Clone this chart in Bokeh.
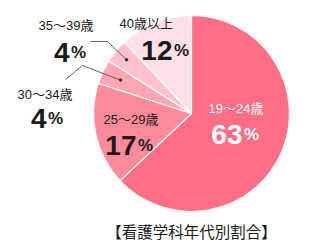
import math
from bokeh.plotting import figure
from bokeh.models import Range1d, ColumnDataSource
from bokeh.core.properties import value
from bokeh.embed import file_html
from bokeh.resources import INLINE

# Age groups and their share (%)
age_groups = ["19〜24歳", "25〜29歳", "30〜34歳", "35〜39歳", "40歳以上"]
shares = [63, 17, 4, 4, 12]
slice_colors = ["#FF6E84", "#FF8A9B", "#FFA6B3", "#FFC1CA", "#FFE0E6"]
title_text = "【看護学科年代別割合】"

W, H = 320, 244
FONT = "Liberation Sans, Noto Sans CJK JP"
CJK = "Noto Sans CJK JP"

p = figure(width=W, height=H, output_backend="svg", toolbar_location=None,
           x_range=Range1d(0, W), y_range=Range1d(0, H), min_border=0,
           outline_line_color=None)
p.axis.visible = False
p.grid.visible = False
p.background_fill_color = "white"
p.border_fill_color = "white"


def sy(y):
    # layout positions are given top-down
    return H - y


cx, cy, r = 191, sy(113), 98
total = sum(shares)

# clockwise wedges starting at 12 o'clock
starts, ends, mids = [], [], []
acc = 0.0
for s in shares:
    a0 = math.pi / 2 - 2 * math.pi * acc / total
    acc += s
    a1 = math.pi / 2 - 2 * math.pi * acc / total
    starts.append(a0)
    ends.append(a1)
    mids.append((a0 + a1) / 2)

src = ColumnDataSource(dict(start=starts, end=ends, color=slice_colors))
p.wedge(x=cx, y=cy, radius=r, start_angle="start", end_angle="end",
        direction="clock", fill_color="color", line_color="white",
        line_width=1.2, source=src)

# leader lines for the two narrow slices
leaders = {2: ([65, 82], [79, 65], 0.80), 3: ([90, 107], [41, 41], 0.86)}
for i, (lx, ly, f) in leaders.items():
    dx = cx + f * r * math.cos(mids[i])
    dy = cy + f * r * math.sin(mids[i])
    xs = lx + [dx]
    ys = [sy(v) for v in ly] + [dy]
    p.line(xs, ys, line_color="#555555", line_width=0.9)
    p.scatter([dx], [dy], size=3.5, fill_color="#333333", line_color=None)

# label layout: (name x, name baseline, number end x, number baseline, text colour)
label_pos = [
    (208, 108, 242, 134, "white"),
    (103, 119, 136, 145, "#1a1a1a"),
    (17, 94, 46, 118, "#1a1a1a"),
    (38, 25, 69, 52, "#1a1a1a"),
    (119, 23, 172, 50, "#1a1a1a"),
]

for name, share, (nx, ny, ex, ey, col) in zip(age_groups, shares, label_pos):
    p.text(x=[nx], y=[sy(ny)], text=[name], text_font=value(FONT),
           text_font_size="13px", text_color=col, text_baseline="alphabetic",
           text_align="left")
    p.text(x=[ex], y=[sy(ey)], text=[str(share)], text_font=value(FONT),
           text_font_size="28px", text_font_style="bold", text_color=col,
           text_baseline="alphabetic", text_align="right")
    p.text(x=[ex + 1.5], y=[sy(ey)], text=["%"], text_font=value(FONT),
           text_font_size="17px", text_font_style="bold", text_color=col,
           text_baseline="alphabetic", text_align="left")

p.text(x=[191], y=[sy(230)], text=[title_text], text_font=value(CJK),
       text_font_size="15.5px", text_color="#1a1a1a", text_baseline="middle",
       text_align="center")

open("out.html", "w").write(file_html(p, INLINE))
